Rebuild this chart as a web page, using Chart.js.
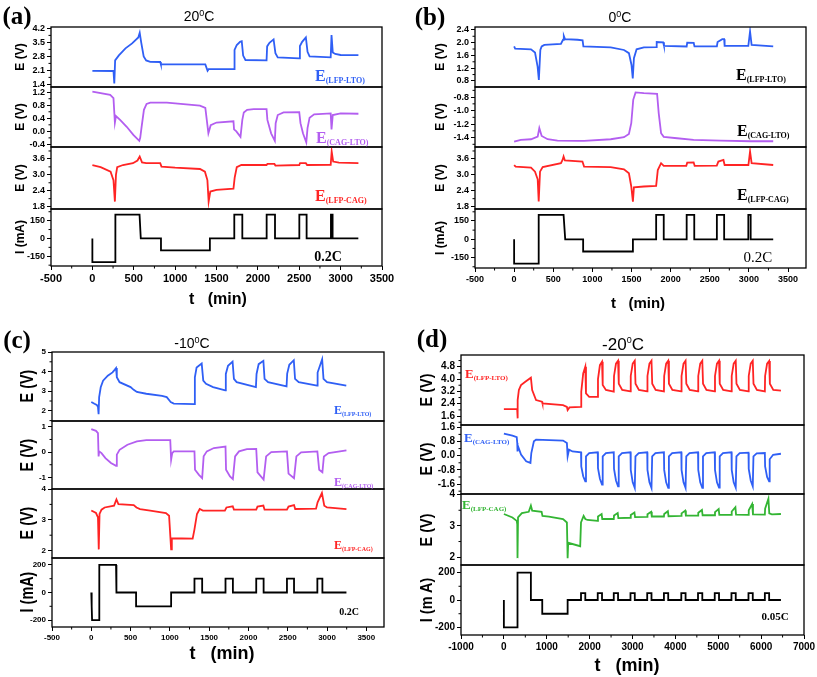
<!DOCTYPE html>
<html>
<head>
<meta charset="utf-8">
<script src="https://cdn.jsdelivr.net/npm/chart.js@4.4.0/dist/chart.umd.min.js"></script>
<style>
  body { margin: 0; background: #fff; width: 817px; height: 677px; position: relative; overflow: hidden; font-family: "Liberation Sans", Arial, sans-serif; }
  canvas { position: absolute; }
  .t { position: absolute; white-space: nowrap; transform: translate(-50%, -50%); color: #000; }
  .tag { font-family: "Liberation Serif", "Times New Roman", serif; font-weight: bold; font-size: 25px; }
  .ttl { font-size: 14px; }
  .ttl sup { font-size: 9px; }
  .xt { font-weight: bold; font-size: 16px; }
  .yt { font-weight: bold; }
  .ser { position: absolute; white-space: nowrap; transform: translateY(-50%); font-family: "Liberation Serif", "Times New Roman", serif; font-weight: bold; }
  .ser sub { vertical-align: -0.35em; }
  .rate { font-family: "Liberation Serif", "Times New Roman", serif; }
</style>
</head>
<body>
<script>
// ---------- (a) 20 C ----------
const aLfpLto = [[0,2.08],[255,2.07],[265,1.45],[275,2.6],[320,2.85],[400,3.2],[480,3.45],[555,3.75],[572,3.98],[590,3.5],[620,2.8],[650,2.6],[700,2.53],[820,2.52],[828,2.4],[1365,2.4],[1392,2.08],[1405,2.16],[1712,2.16],[1718,3.12],[1745,3.37],[1785,3.53],[1805,3.56],[1822,2.84],[1850,2.62],[2105,2.6],[2112,3.3],[2140,3.48],[2190,3.65],[2212,2.96],[2240,2.75],[2500,2.7],[2508,3.32],[2535,3.53],[2580,3.75],[2600,3.03],[2625,2.8],[2880,2.75],[2890,3.87],[2905,3.0],[2935,2.92],[3000,2.87],[3215,2.86]];
const aCagLto = [[0,1.22],[215,1.12],[255,1.02],[272,0.27],[285,0.47],[335,0.35],[415,0.14],[495,-0.11],[567,-0.29],[578,-0.2],[595,0.14],[623,0.66],[655,0.84],[700,0.88],[900,0.88],[1300,0.79],[1365,0.72],[1402,-0.06],[1430,0.19],[1500,0.27],[1705,0.31],[1712,0.06],[1740,0.0],[1790,-0.17],[1812,0.35],[1830,0.58],[1870,0.66],[1950,0.68],[2105,0.68],[2115,0.35],[2160,-0.06],[2205,-0.29],[2215,0.25],[2240,0.5],[2310,0.58],[2500,0.59],[2515,0.25],[2545,-0.06],[2585,-0.34],[2600,0.1],[2625,0.42],[2680,0.52],[2880,0.55],[2890,0.06],[2905,0.5],[3000,0.55],[3215,0.54]];
const aLfpCag = [[0,3.37],[100,3.29],[220,3.12],[255,2.8],[272,1.99],[285,3.0],[300,3.29],[370,3.37],[490,3.44],[545,3.54],[572,3.69],[600,3.47],[650,3.44],[820,3.44],[835,3.31],[1000,3.27],[1300,3.22],[1360,3.12],[1390,2.8],[1405,1.99],[1425,2.37],[1500,2.43],[1705,2.48],[1720,2.9],[1745,3.29],[1800,3.37],[2105,3.37],[2115,3.41],[2200,3.41],[2212,3.35],[2500,3.37],[2510,3.44],[2580,3.44],[2595,3.37],[2880,3.38],[2892,3.88],[2910,3.5],[2980,3.46],[3215,3.44]];
const aCurrent = [[0,0],[0,-200],[278,-200],[278,200],[570,200],[585,0],[829,0],[829,-100],[1420,-100],[1420,0],[1715,0],[1715,200],[1812,200],[1812,0],[2106,0],[2106,200],[2207,200],[2207,0],[2501,0],[2501,200],[2589,200],[2589,0],[2883,0],[2883,200],[2903,200],[2903,0],[3214,0]];

// ---------- (b) 0 C ----------
const bLfpLto = [[0,1.88],[13,1.81],[216,1.79],[267,1.69],[300,1.25],[316,0.83],[335,1.77],[352,1.88],[386,1.93],[598,1.96],[625,2.09],[635,2.21],[650,2.11],[810,2.09],[875,2.07],[885,1.88],[1234,1.85],[1404,1.77],[1467,1.67],[1500,1.3],[1516,0.88],[1531,1.51],[1565,1.79],[1658,1.85],[1815,1.86],[1822,2.02],[1905,2.01],[1915,1.9],[2205,1.88],[2212,2.0],[2295,1.99],[2305,1.88],[2591,1.88],[2600,2.02],[2660,2.11],[2684,2.11],[2690,1.9],[2993,1.9],[3015,2.35],[3035,1.93],[3311,1.88]];
const bCagLto = [[0,-1.46],[85,-1.435],[216,-1.425],[301,-1.385],[322,-1.26],[352,-1.376],[428,-1.425],[555,-1.445],[810,-1.45],[895,-1.45],[1234,-1.425],[1404,-1.395],[1467,-1.346],[1497,-1.187],[1522,-0.84],[1552,-0.73],[1658,-0.74],[1827,-0.75],[1848,-1.04],[1878,-1.335],[1912,-1.39],[2082,-1.41],[2294,-1.435],[2637,-1.445],[3023,-1.455],[3311,-1.455]];
const bLfpCag = [[0,3.37],[20,3.31],[216,3.27],[267,3.12],[301,2.83],[314,1.99],[331,3.12],[365,3.29],[598,3.44],[619,3.56],[632,3.69],[649,3.54],[873,3.5],[894,3.31],[1234,3.29],[1404,3.21],[1467,3.06],[1497,2.56],[1518,1.99],[1531,2.53],[1658,2.56],[1815,2.58],[1836,3.18],[1878,3.44],[1912,3.34],[2200,3.34],[2212,3.46],[2294,3.47],[2307,3.34],[2590,3.35],[2610,3.5],[2675,3.56],[2690,3.37],[2994,3.37],[3015,3.88],[3035,3.44],[3311,3.37]];
const bCurrent = [[0,0],[0,-200],[314,-200],[314,200],[632,200],[653,0],[882,0],[882,-100],[1518,-100],[1518,0],[1815,0],[1815,200],[1912,200],[1912,0],[2205,0],[2205,200],[2302,200],[2302,0],[2591,0],[2591,200],[2684,200],[2684,0],[2993,0],[2993,200],[3023,200],[3023,0],[3311,0]];

// ---------- (c) -10 C ----------
const cLfpLto = [[0,2.45],[40,2.36],[70,2.3],[85,2.2],[93,1.83],[100,2.7],[120,3.2],[150,3.54],[210,3.79],[270,3.96],[300,4.1],[315,4.18],[325,3.71],[360,3.46],[500,3.21],[540,3.07],[580,2.96],[700,2.87],[900,2.76],[960,2.7],[1000,2.5],[1010,2.45],[1050,2.37],[1310,2.34],[1318,3.71],[1340,4.21],[1405,4.41],[1425,3.54],[1460,3.38],[1550,3.21],[1705,3.04],[1712,3.88],[1740,4.3],[1798,4.51],[1815,3.63],[1850,3.46],[2095,3.21],[2103,3.88],[2130,4.38],[2190,4.55],[2205,3.63],[2250,3.46],[2485,3.24],[2493,3.9],[2520,4.35],[2577,4.58],[2593,3.63],[2640,3.46],[2873,3.29],[2880,3.95],[2938,4.63],[2955,3.63],[3000,3.46],[3245,3.29]];
const cCagLto = [[0,0.91],[60,0.84],[85,0.75],[93,-0.17],[100,0.03],[130,-0.04],[180,-0.24],[250,-0.43],[315,-0.54],[325,-0.1],[360,0.09],[460,0.29],[580,0.42],[700,0.47],[1005,0.47],[1016,-0.3],[1030,-0.04],[1050,0.03],[1313,0.03],[1320,-0.7],[1370,-0.9],[1411,-1.03],[1430,-0.17],[1470,0.03],[1560,0.16],[1708,0.22],[1715,-0.7],[1765,-0.96],[1802,-1.07],[1830,-0.17],[1880,0.03],[1980,0.12],[2099,0.13],[2115,-0.8],[2193,-1.09],[2225,-0.17],[2290,0.0],[2490,0.03],[2510,-0.85],[2580,-1.03],[2610,-0.17],[2670,-0.01],[2877,0.03],[2900,-0.7],[2941,-0.8],[2960,-0.17],[3020,-0.04],[3247,0.07]];
const cLfpCag = [[0,3.3],[60,3.22],[85,3.08],[95,2.04],[105,3.19],[130,3.33],[170,3.4],[290,3.46],[320,3.66],[345,3.51],[540,3.48],[575,3.4],[620,3.35],[750,3.3],[950,3.22],[990,3.13],[1016,2.04],[1025,2.4],[1290,2.39],[1313,2.69],[1345,3.19],[1380,3.35],[1420,3.3],[1700,3.3],[1720,3.4],[1800,3.44],[1815,3.33],[2099,3.33],[2115,3.43],[2190,3.46],[2205,3.33],[2490,3.33],[2510,3.43],[2580,3.48],[2595,3.35],[2860,3.36],[2880,3.57],[2935,3.87],[2965,3.46],[3000,3.4],[3247,3.35]];
const cCurrent = [[0,0],[5,-100],[10,-200],[102,-200],[102,200],[315,200],[320,0],[570,0],[570,-100],[1016,-100],[1016,0],[1313,0],[1313,100],[1411,100],[1411,0],[1708,0],[1708,100],[1802,100],[1802,0],[2099,0],[2099,100],[2193,100],[2193,0],[2490,0],[2490,100],[2580,100],[2580,0],[2877,0],[2877,100],[2941,100],[2941,0],[3247,0]];

// ---------- (d) -20 C ----------
const dLfpLto = [[0,2.05],[310,2.05],[318,1.45],[325,2.64],[350,3.29],[400,3.61],[500,3.83],[630,4.09],[660,3.29],[750,2.64],[890,2.53],[900,2.42],[1380,2.31],[1470,2.2],[1487,1.99],[1530,2.16],[1799,2.2],
  [1805,3.18],[1850,4.37],[1899,4.8],[1915,3.07],[1990,2.85],[2189,2.85],
  [2195,4.0],[2240,4.9],[2289,5.12],[2305,3.61],[2380,3.29],[2563,3.18],
  [2569,4.2],[2615,5.0],[2663,5.19],[2680,3.7],[2760,3.3],[2953,3.2],
  [2959,4.2],[3005,5.0],[3053,5.19],[3070,3.7],[3150,3.3],[3343,3.2],
  [3349,4.2],[3395,5.0],[3443,5.19],[3460,3.7],[3540,3.3],[3733,3.2],
  [3739,4.2],[3785,5.0],[3833,5.19],[3850,3.7],[3930,3.3],[4138,3.2],
  [4144,4.2],[4190,5.0],[4238,5.19],[4255,3.7],[4335,3.3],[4528,3.2],
  [4534,4.2],[4580,5.0],[4628,5.19],[4645,3.7],[4725,3.3],[4918,3.2],
  [4924,4.2],[4970,5.0],[5018,5.19],[5035,3.7],[5115,3.3],[5308,3.2],
  [5314,4.2],[5360,5.0],[5408,5.19],[5425,3.7],[5505,3.3],[5705,3.2],
  [5711,4.2],[5757,5.0],[5805,5.19],[5822,3.7],[5902,3.3],[6087,3.2],
  [6093,4.2],[6139,5.0],[6187,5.17],[6204,3.7],[6284,3.3],[6462,3.25]];
const dCagLto = [[0,1.24],[200,1.13],[300,1.05],[312,0.71],[318,0.24],[330,0.53],[400,0.06],[520,-0.32],[620,-0.41],[640,0.15],[700,0.81],[750,0.9],[1380,0.85],[1470,0.71],[1487,-0.04],[1520,0.34],[1600,0.24],[1799,0.19],
  [1805,-0.6],[1850,-1.16],[1899,-1.45],[1915,-0.04],[1990,0.15],[2189,0.19],
  [2195,-0.7],[2240,-1.3],[2289,-1.63],[2305,-0.04],[2380,0.15],[2563,0.19],
  [2569,-0.75],[2615,-1.4],[2663,-1.73],[2679,-0.04],[2755,0.15],[2953,0.19],
  [2959,-0.8],[3005,-1.5],[3053,-1.82],[3069,-0.04],[3145,0.15],[3343,0.19],
  [3349,-0.8],[3395,-1.5],[3443,-1.82],[3459,-0.04],[3535,0.15],[3733,0.19],
  [3739,-0.8],[3785,-1.5],[3833,-1.82],[3849,-0.04],[3925,0.15],[4138,0.19],
  [4144,-0.8],[4190,-1.5],[4238,-1.82],[4254,-0.04],[4330,0.15],[4528,0.19],
  [4534,-0.8],[4580,-1.5],[4628,-1.82],[4644,-0.04],[4720,0.15],[4918,0.19],
  [4924,-0.8],[4970,-1.5],[5018,-1.8],[5034,-0.04],[5110,0.15],[5308,0.19],
  [5314,-0.8],[5360,-1.5],[5408,-1.8],[5424,-0.04],[5500,0.15],[5705,0.17],
  [5711,-0.75],[5757,-1.4],[5805,-1.73],[5821,-0.04],[5897,0.13],[6087,0.15],
  [6093,-0.6],[6139,-1.2],[6187,-1.45],[6200,-0.2],[6280,0.05],[6462,0.11]];
const dLfpCag = [[0,3.38],[200,3.27],[300,3.16],[312,3.05],[318,1.97],[330,3.27],[420,3.41],[580,3.45],[630,3.65],[660,3.49],[880,3.45],[900,3.32],[1050,3.3],[1380,3.22],[1470,3.11],[1487,1.97],[1500,2.46],[1780,2.35],[1799,3.11],[1860,3.32],[1899,3.22],[1950,3.19],[2189,3.16],
  [2195,3.3],[2280,3.38],[2295,3.22],[2563,3.22],
  [2569,3.33],[2655,3.41],[2670,3.25],[2953,3.26],
  [2959,3.35],[3045,3.43],[3060,3.28],[3343,3.29],
  [3349,3.37],[3435,3.45],[3450,3.3],[3733,3.3],
  [3739,3.38],[3825,3.47],[3840,3.31],[4138,3.32],
  [4144,3.4],[4230,3.49],[4245,3.33],[4528,3.33],
  [4534,3.42],[4620,3.51],[4635,3.34],[4918,3.34],
  [4924,3.44],[5010,3.54],[5025,3.35],[5308,3.35],
  [5314,3.46],[5400,3.6],[5415,3.36],[5705,3.35],
  [5711,3.5],[5790,3.7],[5810,3.37],[6087,3.36],
  [6093,3.55],[6170,3.87],[6190,3.4],[6250,3.37],[6462,3.38]];
const dCurrent = [[0,0],[0,-200],[318,-200],[318,200],[630,200],[630,0],[895,0],[895,-100],[1487,-100],[1487,0],
  [1799,0],[1799,50],[1899,50],[1899,0],[2189,0],[2189,50],[2289,50],[2289,0],[2563,0],[2563,50],[2663,50],[2663,0],
  [2953,0],[2953,50],[3053,50],[3053,0],[3343,0],[3343,50],[3443,50],[3443,0],[3733,0],[3733,50],[3833,50],[3833,0],
  [4138,0],[4138,50],[4238,50],[4238,0],[4528,0],[4528,50],[4628,50],[4628,0],[4918,0],[4918,50],[5018,50],[5018,0],
  [5308,0],[5308,50],[5408,50],[5408,0],[5705,0],[5705,50],[5805,50],[5805,0],[6087,0],[6087,50],[6187,50],[6187,0],[6462,0]];

// ---------- tick labels ----------
const xTicksAB = [-500, 0, 500, 1000, 1500, 2000, 2500, 3000, 3500];
const xTicksD = [-1000, 0, 1000, 2000, 3000, 4000, 5000, 6000, 7000];
const aTicksLfpLto = [1.4, 2.1, 2.8, 3.5, 4.2];
const aTicksCagLto = [-0.4, 0.0, 0.4, 0.8, 1.2];
const bTicksLfpLto = [0.8, 1.2, 1.6, 2.0, 2.4];
const bTicksCagLto = [-1.4, -1.2, -1.0, -0.8];
const abTicksLfpCag = [1.8, 2.4, 3.0, 3.6];
const abTicksCurrent = [-150, 0, 150];
const cTicksLfpLto = [2, 3, 4, 5];
const cTicksCagLto = [-1, 0, 1];
const cTicksLfpCag = [2, 3, 4];
const cdTicksCurrent = [-200, 0, 200];
const dTicksLfpLto = [1.6, 2.4, 3.2, 4.0, 4.8];
const dTicksCagLto = [-1.6, -0.8, 0.0, 0.8, 1.6];
const dTicksLfpCag = [2, 3, 4];

const BLUE = '#2f5ff5', VIOLET = '#b35ef0', RED = '#ff2424', GREEN = '#33b533', BLACK = '#000';

// box round each plot area + small minor ticks
const frame = {
  id: 'frame',
  afterDraw(chart) {
    const { ctx, chartArea: a, scales } = chart;
    ctx.save();
    ctx.strokeStyle = '#000';
    ctx.lineWidth = 1.3;
    ctx.strokeRect(a.left, a.top, a.right - a.left, a.bottom - a.top);
    ctx.lineWidth = 1;
    const minor = (scale, draw) => {
      const v = scale.ticks.map(t => t.value);
      if (v.length < 2) return;
      const step = v[1] - v[0];
      for (let m = v[0] - step / 2; m <= scale.max; m += step) {
        if (m >= scale.min) draw(scale.getPixelForValue(m));
      }
    };
    ctx.beginPath();
    minor(scales.y, p => { ctx.moveTo(a.left - 2.5, p); ctx.lineTo(a.left, p); });
    if (scales.x.options.display) minor(scales.x, p => { ctx.moveTo(p, a.bottom); ctx.lineTo(p, a.bottom + 2.5); });
    ctx.stroke();
    ctx.restore();
  }
};

function panel(p) {
  const w = p.right - p.left;
  const axisW = 42, padT = 10, padR = 16;
  p.rows.forEach((sub, i) => {
    const last = i === p.rows.length - 1;
    const top = p.edges[i], h = p.edges[i + 1] - top;
    const cw = axisW + w + padR, ch = padT + h + (last ? p.axisH : 10);
    const cv = document.createElement('canvas');
    cv.width = cw; cv.height = ch;
    cv.style.left = (p.left - axisW) + 'px';
    cv.style.top = (top - padT) + 'px';
    cv.style.width = cw + 'px'; cv.style.height = ch + 'px';
    document.body.appendChild(cv);
    new Chart(cv, {
      type: 'line',
      data: { datasets: [{ data: sub.data.map(([x, y]) => ({ x, y })), borderColor: sub.color, borderWidth: 1.8, pointRadius: 0, tension: 0, fill: false }] },
      options: {
        responsive: false, animation: false, devicePixelRatio: 1,
        layout: { padding: { top: padT, bottom: last ? 0 : 10, left: 0, right: padR } },
        plugins: { legend: { display: false }, tooltip: { enabled: false } },
        scales: {
          x: {
            type: 'linear', min: p.xMin, max: p.xMax, display: last,
            afterBuildTicks: s => { s.ticks = p.xTicks.map(v => ({ value: v })); },
            afterFit: s => { if (last) s.height = p.axisH; },
            grid: { drawOnChartArea: false, tickLength: 4, color: '#000' },
            border: { display: false },
            ticks: { color: '#000', font: { family: 'Liberation Sans', size: p.xFont, weight: 'bold' }, padding: 2, maxRotation: 0, autoSkip: false, callback: v => String(v) }
          },
          y: {
            min: sub.min, max: sub.max,
            afterBuildTicks: s => { s.ticks = sub.ticks.map(v => ({ value: v })); },
            afterFit: s => { s.width = axisW; },
            grid: { drawOnChartArea: false, tickLength: 4, color: '#000' },
            border: { display: false },
            ticks: { color: '#000', font: { family: 'Liberation Sans', size: p.yFont, weight: 'bold' }, padding: 2, autoSkip: false, callback: v => Number(v).toFixed(sub.dec) }
          }
        }
      },
      plugins: [frame]
    });
  });
}

panel({ left: 51, right: 382, edges: [27, 87, 147, 209, 266], xMin: -500, xMax: 3500, xTicks: xTicksAB, axisH: 22, xFont: 11, yFont: 9,
  rows: [
    { data: aLfpLto, color: BLUE, min: 1.27, max: 4.27, ticks: aTicksLfpLto, dec: 1 },
    { data: aCagLto, color: VIOLET, min: -0.48, max: 1.36, ticks: aTicksCagLto, dec: 1 },
    { data: aLfpCag, color: RED, min: 1.71, max: 4.05, ticks: abTicksLfpCag, dec: 1 },
    { data: aCurrent, color: BLACK, min: -232, max: 248, ticks: abTicksCurrent, dec: 0 }
  ] });

panel({ left: 475, right: 806, edges: [27, 87, 147, 209, 268], xMin: -500, xMax: 3730, xTicks: xTicksAB, axisH: 22, xFont: 9, yFont: 9,
  rows: [
    { data: bLfpLto, color: BLUE, min: 0.61, max: 2.49, ticks: bTicksLfpLto, dec: 1 },
    { data: bCagLto, color: VIOLET, min: -1.54, max: -0.65, ticks: bTicksCagLto, dec: 1 },
    { data: bLfpCag, color: RED, min: 1.71, max: 4.05, ticks: abTicksLfpCag, dec: 1 },
    { data: bCurrent, color: BLACK, min: -235, max: 248, ticks: abTicksCurrent, dec: 0 }
  ] });

panel({ left: 52, right: 384, edges: [352, 421, 489, 558, 627], xMin: -500, xMax: 3725, xTicks: xTicksAB, axisH: 20, xFont: 8, yFont: 8,
  rows: [
    { data: cLfpLto, color: BLUE, min: 1.48, max: 5.0, ticks: cTicksLfpLto, dec: 0 },
    { data: cCagLto, color: VIOLET, min: -1.46, max: 1.23, ticks: cTicksCagLto, dec: 0 },
    { data: cLfpCag, color: RED, min: 1.76, max: 4.0, ticks: cTicksLfpCag, dec: 0 },
    { data: cCurrent, color: BLACK, min: -250, max: 250, ticks: cdTicksCurrent, dec: 0 }
  ] });

panel({ left: 461, right: 804, edges: [355, 425, 494, 565, 635], xMin: -1000, xMax: 7000, xTicks: xTicksD, axisH: 22, xFont: 10, yFont: 10,
  rows: [
    { data: dLfpLto, color: RED, min: 1.02, max: 5.56, ticks: dTicksLfpLto, dec: 1 },
    { data: dCagLto, color: BLUE, min: -2.16, max: 1.73, ticks: dTicksCagLto, dec: 1 },
    { data: dLfpCag, color: GREEN, min: 1.75, max: 4.02, ticks: dTicksLfpCag, dec: 0 },
    { data: dCurrent, color: BLACK, min: -255, max: 255, ticks: cdTicksCurrent, dec: 0 }
  ] });

// ---------- text ----------
function txt(html, x, y, cls, style) {
  const el = document.createElement('div');
  el.className = cls;
  el.innerHTML = html;
  el.style.left = x + 'px';
  el.style.top = y + 'px';
  if (style) el.style.cssText += style;
  document.body.appendChild(el);
}
function yTitle(text, x, y, size, sx) {
  txt(text, x, y, 't yt', `font-size:${size}px;transform:translate(-50%,-50%) rotate(-90deg) scaleX(${sx});`);
}
function series(sub, x, y, color, eSize, sSize) {
  txt(`E<sub style="font-size:${sSize}px">${sub}</sub>`, x, y, 'ser', `color:${color};font-size:${eSize}px;`);
}

txt('(a)', 17, 16, 't tag');
txt('(b)', 430, 17, 't tag');
txt('(c)', 17, 340, 't tag');
txt('(d)', 432, 339, 't tag');

txt('20<sup>0</sup>C', 199, 16, 't ttl');
txt('0<sup>0</sup>C', 620, 17, 't ttl');
txt('-10<sup>0</sup>C', 192, 343, 't ttl');
txt('-20<sup>0</sup>C', 623, 345, 't ttl', 'font-size:17px;');

txt('t&nbsp;&nbsp;&nbsp;(min)', 218, 299, 't xt');
txt('t&nbsp;&nbsp;&nbsp;(min)', 638, 302, 't xt', 'font-size:15px;');
txt('t&nbsp;&nbsp;&nbsp;(min)', 222, 653, 't xt', 'font-size:18px;');
txt('t&nbsp;&nbsp;&nbsp;(min)', 627, 665, 't xt', 'font-size:18px;');

[[57, 'E (V)'], [117, 'E (V)'], [178, 'E (V)'], [237, 'I (mA)']].forEach(([y, s]) => yTitle(s, 20, y, 12, 1));
[[57, 'E (V)'], [117, 'E (V)'], [178, 'E (V)'], [238, 'I (mA)']].forEach(([y, s]) => yTitle(s, 440, y, 12, 1));
[[386, 'E (V)'], [455, 'E (V)'], [523, 'E (V)'], [592, 'I (mA)']].forEach(([y, s]) => yTitle(s, 27, y, 18, 0.8));
[[390, 'E (V)'], [459, 'E (V)'], [530, 'E (V)'], [600, 'I (m A)']].forEach(([y, s]) => yTitle(s, 427, y, 17, 0.85));

series('(LFP-LTO)', 315, 76, BLUE, 16, 8);
series('(CAG-LTO)', 316, 138, VIOLET, 16, 8);
series('(LFP-CAG)', 315, 196, RED, 16, 8);
series('(LFP-LTO)', 736, 75, BLACK, 16, 8);
series('(CAG-LTO)', 737, 131, BLACK, 16, 8);
series('(LFP-CAG)', 737, 195, BLACK, 16, 8);
series('(LFP-LTO)', 334, 410, BLUE, 12, 6);
series('(CAG-LTO)', 334, 482, VIOLET, 12, 6);
series('(LFP-CAG)', 334, 545, RED, 12, 6);
series('(LFP-LTO)', 465, 374, RED, 13, 7);
series('(CAG-LTO)', 464, 438, BLUE, 13, 7);
series('(LFP-CAG)', 462, 505, GREEN, 13, 7);

txt('0.2C', 328, 257, 't rate', 'font-weight:bold;font-size:14px;');
txt('0.2C', 758, 257, 't rate', 'font-size:15px;');
txt('0.2C', 349, 611, 't rate', 'font-weight:bold;font-size:10px;');
txt('0.05C', 775, 616, 't rate', 'font-weight:bold;font-size:11px;');
</script>
</body>
</html>
